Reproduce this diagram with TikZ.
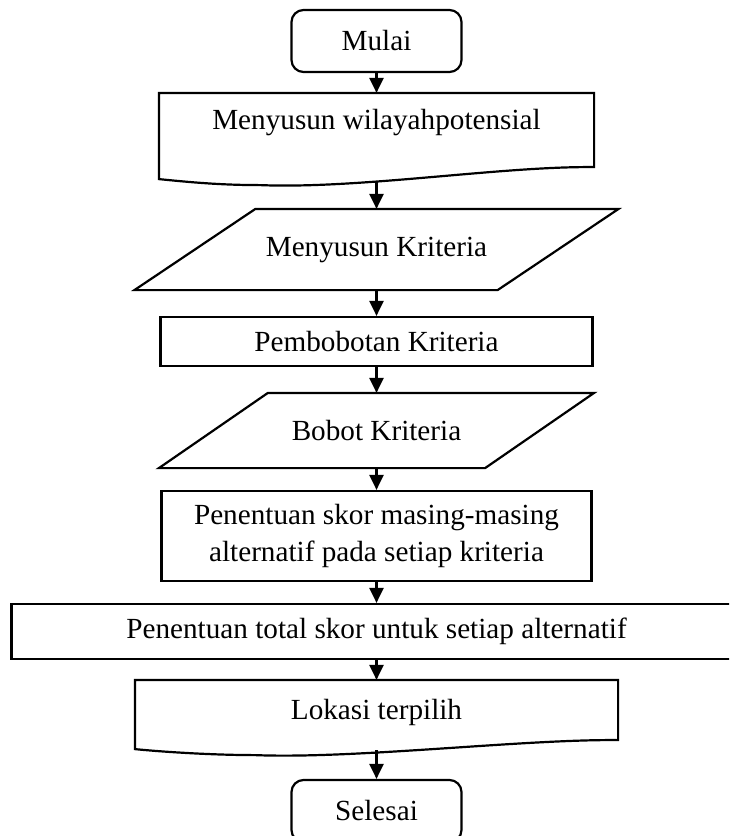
\documentclass[tikz,border=0pt]{standalone}
\usepackage{fontspec}
\setmainfont{Liberation Serif}
\usetikzlibrary{arrows.meta}

\begin{document}
\begin{tikzpicture}[x=1pt, y=-1pt, line width=2.2pt, >={Triangle[length=15pt,width=14pt]},
  font=\fontsize{29.2}{37}\selectfont,
  terminal/.style={draw, rectangle, rounded corners=12pt, minimum width=170pt, minimum height=62pt},
  proses/.style={draw, rectangle, align=center},
  bentuk/.style={rectangle, inner sep=0pt},
  panah/.style={->}]
\useasboundingbox (0,0) rectangle (729,836);
\clip (0,0) rectangle (729,836);
% Simpul
\node [terminal] (mulai) at (376.5,41) {Mulai};
\node [bentuk, minimum width=433pt, minimum height=58pt] (wilayah) at (376.5,123) {Menyusun wilayahpotensial};
\node [bentuk, minimum width=361pt, minimum height=79pt] (kriteria) at (376.5,249.5) {Menyusun Kriteria};
\node [proses, minimum width=432pt, minimum height=49pt] (bobotkan) at (376.5,341.5) {Pembobotan Kriteria};
\node [bentuk, minimum width=324pt, minimum height=73pt] (bobot) at (376.5,430.5) {Bobot Kriteria};
\node [proses, minimum width=430pt, minimum height=90pt] (skor) at (376.5,536) {Penentuan skor masing-masing\\alternatif pada setiap kriteria};
\node [proses, minimum width=730pt, minimum height=55pt] (total) at (376.5,631.5) {Penentuan total skor untuk setiap alternatif};
\node [bentuk, minimum width=481pt, minimum height=62pt] (lokasi) at (376.5,712) {Lokasi terpilih};
\node [terminal] (selesai) at (376.5,811) {Selesai};
% Garis tepi
% ---
% dokumen
% ---
\draw (wilayah.north west) -- (wilayah.north east) -- ([yshift=-14pt]wilayah.south east)
  .. controls +(-93pt,1pt) and +(100pt,-4pt) .. ([xshift=-116.5pt,yshift=-32pt]wilayah.south)
  .. controls +(-40pt,0pt) and +(30pt,-3pt) .. ([yshift=-26pt]wilayah.south west) -- cycle;

\draw (lokasi.north west) -- (lokasi.north east) -- ([yshift=4pt]lokasi.south east)
  .. controls +(-95pt,1pt) and +(100pt,-4pt) .. ([xshift=-121.5pt,yshift=-11pt]lokasi.south)
  .. controls +(-40pt,0pt) and +(30pt,-3pt) .. ([yshift=-5pt]lokasi.south west) -- cycle;
% ---
% jajar genjang
% ---
\draw ([xshift=-60.5pt]kriteria.south west) -- ([xshift=-60.5pt]kriteria.south east)
  -- ([xshift=60.5pt]kriteria.north east) -- ([xshift=60.5pt]kriteria.north west) -- cycle;

\draw ([xshift=-54.5pt]bobot.south west) -- ([xshift=-54.5pt]bobot.south east)
  -- ([xshift=54.5pt]bobot.north east) -- ([xshift=54.5pt]bobot.north west) -- cycle;
% Panah
\path (mulai.south) edge [panah] (wilayah.north);
\path ([yshift=-29pt]wilayah.south) edge [panah] (kriteria.north);
\path (kriteria.south) edge [panah] (bobotkan.north);
\path (bobotkan.south) edge [panah] (bobot.north);
\path (bobot.south) edge [panah] (skor.north);
\path (skor.south) edge [panah] (total.north);
\path (total.south) edge [panah] (lokasi.north);
\path ([yshift=-6pt]lokasi.south) edge [panah] (selesai.north);
\end{tikzpicture}
\end{document}
